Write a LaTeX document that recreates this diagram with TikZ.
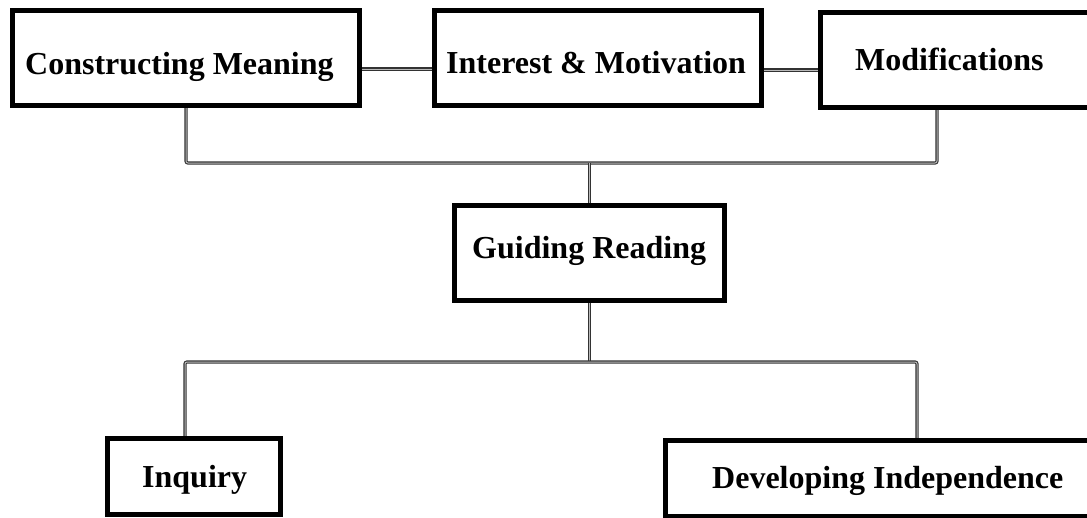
\documentclass[tikz,border=0pt]{standalone}
\usepackage{fontspec}
\setmainfont{Liberation Serif}
\pgfdeclarelayer{bg}
\pgfsetlayers{bg,main}
\begin{document}
\begin{tikzpicture}[x=1pt,y=-1pt,
  box/.style={draw=black, line width=5pt, inner sep=0pt, minimum width=#1},
  txt/.style={inner sep=0pt, anchor=base west, font=\fontsize{32}{36}\selectfont\bfseries},
  conn/.style={draw=black!80, line width=1.1pt, double=gray!55, double distance=1pt, rounded corners=2pt}]
\useasboundingbox (0,0) rectangle (1087,517);
\clip (0,0) rectangle (1087,517);
% boxes
\node[box=347pt, minimum height=95pt] (cm)  at (186,58) {};
\node[box=327pt, minimum height=95pt] (im)  at (598,58) {};
\node[box=277pt, minimum height=95pt] (mod) at (959,60) {};
\node[box=270pt, minimum height=95pt] (gr)  at (589.5,253) {};
\node[box=173pt, minimum height=76pt] (inq) at (194,476.5) {};
\node[box=442pt, minimum height=76pt] (di)  at (886.5,478.5) {};
% texts
\node[txt] (cmt)  at (25,74)  {Constructing Meaning};
\node[txt] (imt)  at (446,73) {Interest \& Motivation};
\node[txt] (modt) at (855,70) {Modifications};
\node[txt] (grt)  at (472,258) {Guiding Reading};
\node[txt] (inqt) at (142,487) {Inquiry};
\node[txt] (dit)  at (712,488) {Developing Independence};
% junctions
\coordinate (topj) at (589.5,163);
\coordinate (botj) at (589.5,362);
\begin{pgfonlayer}{bg}
\draw[conn] ([yshift=-11pt]cm.east) -- ([yshift=-11pt]im.west);
\draw[conn] ([yshift=-12pt]im.east) -- ([yshift=-10pt]mod.west);
\draw[conn] (cm.south) |- (topj) -| ([xshift=-22pt]mod.south);
\draw[conn] (topj) -- (gr.north);
\draw[conn] (gr.south) -- (botj);
\draw[conn] ([xshift=-9pt]inq.north) |- (botj) -| ([xshift=30.5pt]di.north);
\end{pgfonlayer}
\end{tikzpicture}
\end{document}
